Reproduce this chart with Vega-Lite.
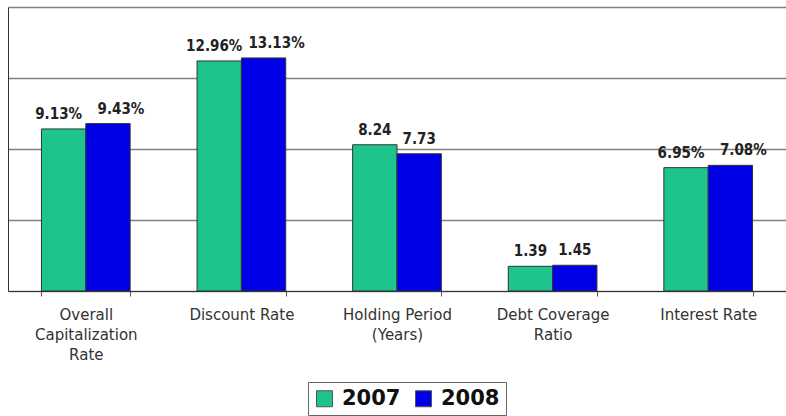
{
  "$schema": "https://vega.github.io/schema/vega-lite/v6.json",
  "width": 778,
  "height": 284,
  "autosize": {"type": "none"},
  "padding": {"left": 8, "top": 7, "right": 0, "bottom": 125},
  "background": "white",
  "config": {"view": {"stroke": null}},
  "data": {
    "values": [
      {"category": "Overall Capitalization Rate", "year": "2007", "value": 9.13, "label": "9.13%"},
      {"category": "Overall Capitalization Rate", "year": "2008", "value": 9.43, "label": "9.43%"},
      {"category": "Discount Rate", "year": "2007", "value": 12.96, "label": "12.96%"},
      {"category": "Discount Rate", "year": "2008", "value": 13.13, "label": "13.13%"},
      {"category": "Holding Period (Years)", "year": "2007", "value": 8.24, "label": "8.24"},
      {"category": "Holding Period (Years)", "year": "2008", "value": 7.73, "label": "7.73"},
      {"category": "Debt Coverage Ratio", "year": "2007", "value": 1.39, "label": "1.39"},
      {"category": "Debt Coverage Ratio", "year": "2008", "value": 1.45, "label": "1.45"},
      {"category": "Interest Rate", "year": "2007", "value": 6.95, "label": "6.95%"},
      {"category": "Interest Rate", "year": "2008", "value": 7.08, "label": "7.08%"}
    ]
  },
  "encoding": {
    "x": {
      "field": "category",
      "type": "nominal",
      "sort": null,
      "scale": {"paddingInner": 0.43, "paddingOuter": 0.215},
      "axis": {
        "title": null,
        "labelAngle": 0,
        "labelFont": "DejaVu Sans",
        "labelFontSize": 15,
        "labelColor": "#333333",
        "labelLineHeight": 20,
        "labelPadding": 11,
        "labelExpr": "datum.label == 'Overall Capitalization Rate' ? ['Overall', 'Capitalization', 'Rate'] : datum.label == 'Holding Period (Years)' ? ['Holding Period', '(Years)'] : datum.label == 'Debt Coverage Ratio' ? ['Debt Coverage', 'Ratio'] : datum.label",
        "domainColor": "#333333",
        "tickColor": "#555555",
        "tickSize": 5,
        "tickBand": "extent",
        "labelLimit": 0
      }
    },
    "xOffset": {"field": "year", "type": "nominal"},
    "y": {
      "field": "value",
      "type": "quantitative",
      "scale": {"domain": [0, 16], "nice": false},
      "axis": {
        "title": null,
        "labels": false,
        "ticks": false,
        "values": [0, 4, 8, 12, 16],
        "grid": true,
        "gridColor": "#808080",
        "gridWidth": 1.5,
        "domainColor": "#333333"
      }
    }
  },
  "layer": [
    {
      "mark": {"type": "bar", "stroke": "#333333", "strokeWidth": 1},
      "encoding": {
        "color": {
          "field": "year",
          "type": "nominal",
          "scale": {"domain": ["2007", "2008"], "range": ["#1DC48E", "#0000E6"]},
          "legend": {
            "title": null,
            "orient": "none",
            "direction": "horizontal",
            "legendX": 300,
            "legendY": 375,
            "symbolType": "square",
            "symbolSize": 256,
            "symbolStrokeColor": "#555555",
            "symbolStrokeWidth": 1,
            "labelFont": "DejaVu Sans",
            "labelFontSize": 21,
            "labelFontWeight": "bold",
            "labelColor": "#111111",
            "strokeColor": "#666666",
            "padding": 6,
            "columnPadding": 12,
            "labelOffset": 7
          }
        }
      }
    },
    {
      "transform": [{"filter": "indexof(datum.label, '%') < 0"}],
      "mark": {"type": "text", "baseline": "alphabetic", "dy": -10, "font": "DejaVu Sans Condensed", "fontSize": 15, "fontWeight": "bold", "color": "#222222"},
      "encoding": {"text": {"field": "label"}}
    },
    {
      "transform": [{"filter": "indexof(datum.label, '%') >= 0 && datum.year == '2007'"}],
      "mark": {"type": "text", "baseline": "alphabetic", "dy": -10, "dx": -5, "font": "DejaVu Sans Condensed", "fontSize": 15, "fontWeight": "bold", "color": "#222222"},
      "encoding": {"text": {"field": "label"}}
    },
    {
      "transform": [{"filter": "indexof(datum.label, '%') >= 0 && datum.year == '2008'"}],
      "mark": {"type": "text", "baseline": "alphabetic", "dy": -10, "dx": 13, "font": "DejaVu Sans Condensed", "fontSize": 15, "fontWeight": "bold", "color": "#222222"},
      "encoding": {"text": {"field": "label"}}
    }
  ]
}
